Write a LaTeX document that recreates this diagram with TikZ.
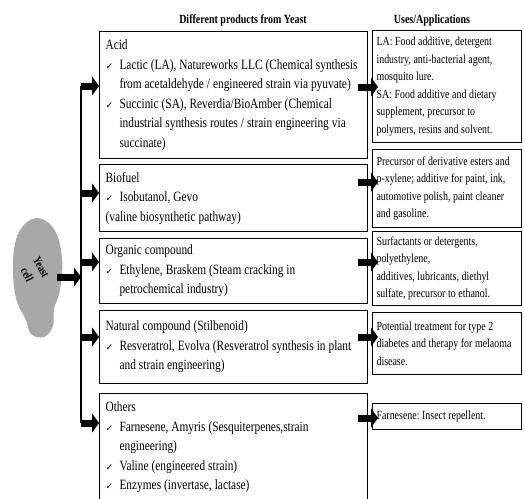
\documentclass[tikz,border=0pt]{standalone}
\usepackage{fontspec}
\setmainfont{Liberation Serif}[FakeStretch=0.8]
\newfontfamily\symfont{DejaVu Sans}
\usetikzlibrary{arrows.meta}
\definecolor{cellgray}{gray}{0.66}
\newcommand\chk{\makebox[14pt][l]{\symfont\fontsize{9}{9}\selectfont ✓}}
\newcommand\ind{\hspace*{14pt}}
\newcommand\tightsp[1]{\spaceskip=#1 plus 1pt minus 0.5pt\xspaceskip=#1 plus 1pt\relax}

\begin{document}
\begin{tikzpicture}[
  x=1pt, y=-1pt,
  prodbox/.style={draw, line width=1.1pt, anchor=north west, text width=256pt,
                  inner xsep=6pt, inner ysep=3pt, align=left,
                  font=\fontsize{14.2}{19.5}\selectfont,
                  execute at begin node=\tightsp{3pt}},
  usebox/.style={draw, line width=1.1pt, anchor=north west, text width=141pt,
                 inner xsep=4pt, inner ysep=2pt, align=left,
                 font=\fontsize{12.4}{17.5}\selectfont,
                 execute at begin node=\tightsp{2.6pt}},
  head/.style={font=\bfseries\fontsize{12.5}{14}\selectfont},
  fat/.style={line width=7pt, -{Triangle[length=7pt, width=19pt]}},
]
  \useasboundingbox (0,0) rectangle (524,498);
  \clip (0,0) rectangle (524,498);

  % Column headings
  \node[head] (prodhead) at (243,20) {Different products from Yeast};
  \node[head] (usehead) at (432,20) {Uses/Applications};

  % Yeast cell
  \fill[cellgray] plot[smooth cycle, tension=0.65] coordinates {(36,218) (54,229) (62,258)
    (60,290) (54,309) (53,326) (44,337) (31,334) (26,320) (16,298) (13,262) (19,232)};
  \node[rotate=-62, align=center, font=\bfseries\fontsize{12}{16}\selectfont] (yeast)
    at (34,271) {Yeast\\cell};
  \coordinate (cellrim) at (57,277);

  % Products column
  \node[prodbox, minimum height=127pt] (acid) at (99,31) {Acid\\
    \chk Lactic (LA), Natureworks LLC (Chemical synthesis\\
    \ind from acetaldehyde / engineered strain via pyuvate)\\
    \chk Succinic (SA), Reverdia/BioAmber (Chemical\\
    \ind industrial synthesis routes / strain engineering via\\
    \ind succinate)};
  \node[prodbox, minimum height=67pt] (biofuel) at (99,164) {Biofuel\\
    \chk Isobutanol, Gevo\\
    (valine biosynthetic pathway)};
  \node[prodbox, minimum height=65pt] (organic) at (99,238) {Organic compound\\
    \chk Ethylene, Braskem (Steam cracking in\\
    \ind petrochemical industry)};
  \node[prodbox, minimum height=73pt] (natural) at (99,310) {Natural compound (Stilbenoid)\\
    \chk Resveratrol, Evolva (Resveratrol synthesis in plant\\
    \ind and strain engineering)};
  \node[prodbox, minimum height=108pt] (others) at (99,393) {Others\\
    \chk Farnesene, Amyris (Sesquiterpenes,strain\\
    \ind engineering)\\
    \chk Valine (engineered strain)\\
    \chk Enzymes (invertase, lactase)};

  % Uses column
  \node[usebox, minimum height=112pt] (use1) at (372,30) {LA: Food additive, detergent\\
    industry, anti-bacterial agent,\\ mosquito lure.\\
    SA: Food additive and dietary\\ supplement, precursor to\\
    polymers, resins and solvent.};
  \node[usebox, minimum height=78pt] (use2) at (372,149) {Precursor of derivative esters and\\
    p-xylene; additive for paint, ink,\\ automotive polish, paint cleaner\\ and gasoline.};
  \node[usebox, minimum height=74pt] (use3) at (372,231) {Surfactants or detergents,\\
    polyethylene,\\ additives, lubricants, diethyl\\ sulfate, precursor to ethanol.};
  \node[usebox, minimum height=62pt] (use4) at (372,312) {Potential treatment for type 2\\
    diabetes and therapy for melaoma\\ disease.};
  \node[usebox, minimum height=26pt] (use5) at (372,403) {Farnesene: Insect repellent.};

  % Spine and arrows
  \coordinate (spinetop) at (81,86);
  \coordinate (spinebot) at (81,423);
  \draw[line width=1.5pt] (spinetop) -- (spinebot);
  \draw[fat] (cellrim) -- (spinetop |- cellrim);

  \foreach \b/\d in {acid/55, biofuel/29, organic/24, natural/27, others/30}
    \draw[fat] ([yshift=-\d pt]spinetop |- \b.north west) -- ([yshift=-\d pt]\b.north west);

  \foreach \p/\u/\d in {acid/use1/57, biofuel/use2/33, organic/use3/31, natural/use4/25, others/use5/15}
    \draw[fat] ([xshift=-10pt, yshift=-\d pt]\p.east |- \u.north west)
      -- ([xshift=6pt, yshift=-\d pt]\u.north west);
\end{tikzpicture}
\end{document}
